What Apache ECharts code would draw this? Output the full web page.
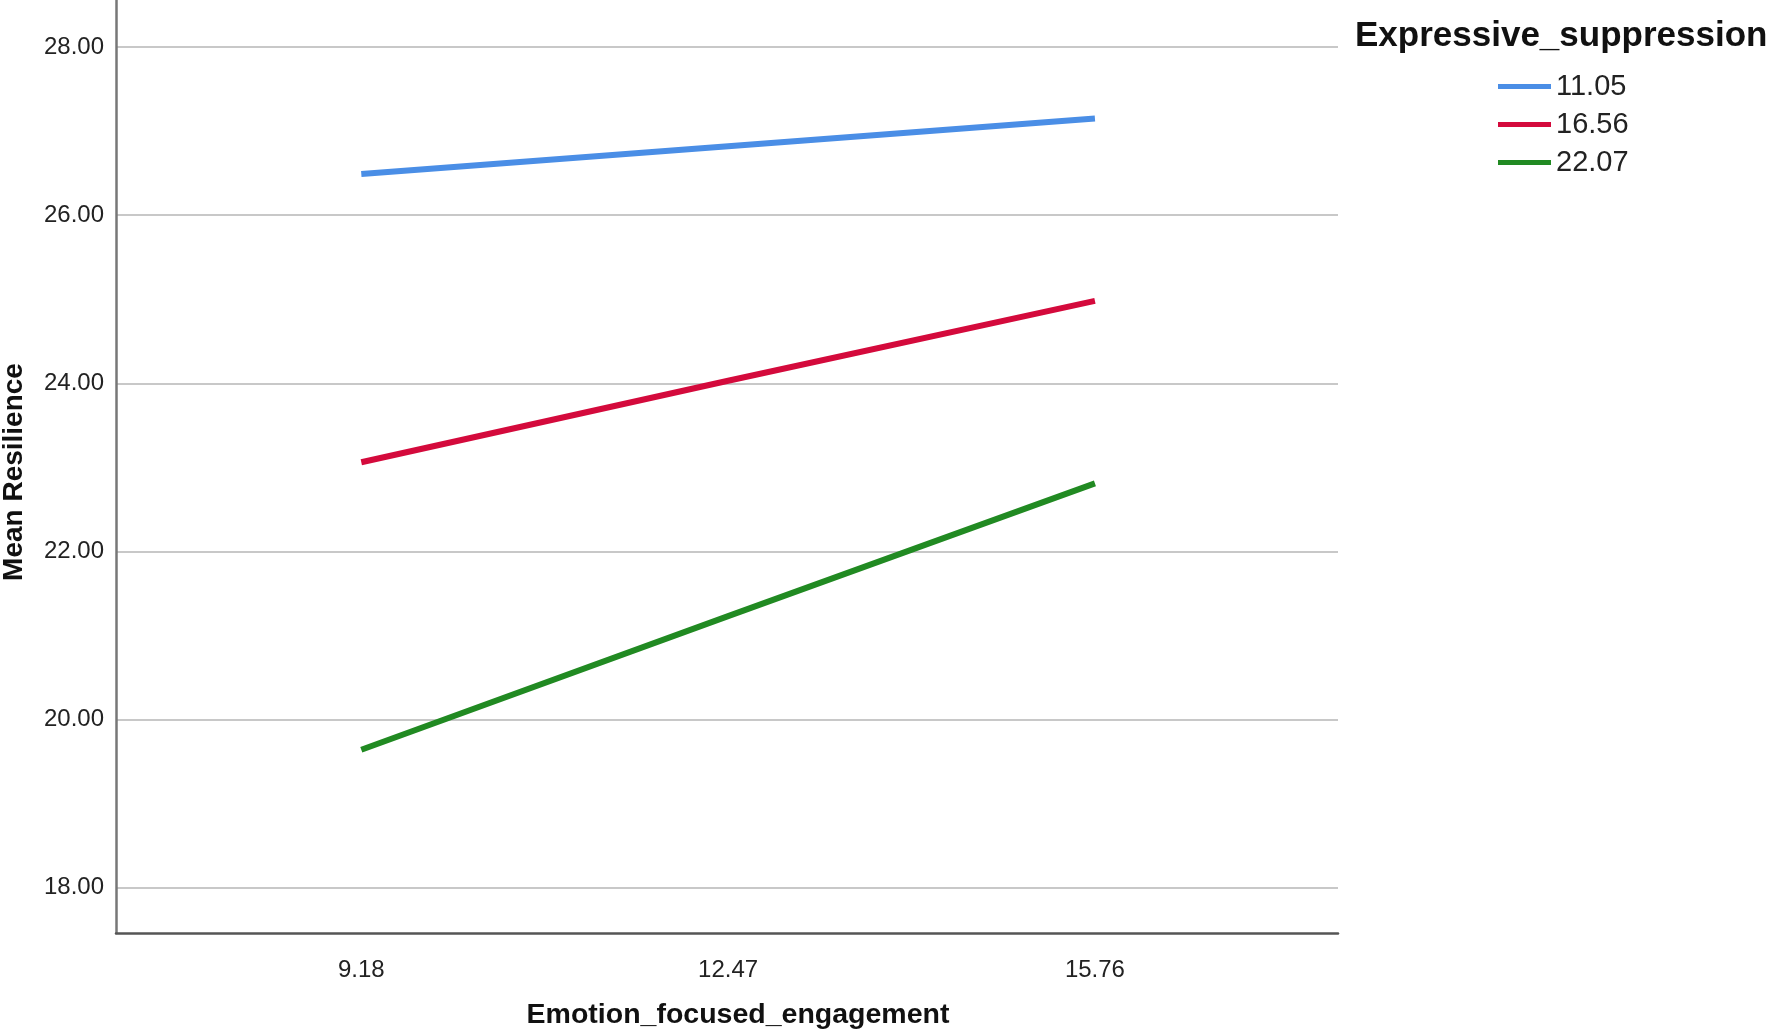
<!DOCTYPE html>
<html lang="en">
<head>
    <meta charset="UTF-8">
    <title>Mean Resilience</title>
    <script src="https://cdn.jsdelivr.net/npm/echarts@6/dist/echarts.min.js"></script>
    <style>
        html, body { margin: 0; padding: 0; background: #fff; }
        #main { width: 1770px; height: 1029px; }
    </style>
</head>
<body>
    <div id="main"></div>
    <script>
        // x values (Emotion_focused_engagement)
        var xValues = [9.18, 12.47, 15.76];
        // legend groups (Expressive_suppression)
        var groupNames = ['11.05', '16.56', '22.07'];
        // mean resilience per group
        var blueValues = [26.49, 26.82, 27.15];
        var redValues = [23.06, 24.03, 24.98];
        var greenValues = [19.64, 21.23, 22.81];
        var yTicks = [18, 20, 22, 24, 26, 28];

        var font = 'Liberation Sans, Arial, sans-serif';
        var colors = ['#4a8ee6', '#d40a3c', '#218a22'];

        function pairs(ys) {
            return xValues.map(function (x, i) { return [x, ys[i]]; });
        }

        var myChart = echarts.init(document.getElementById('main'));

        var option = {
            animation: false,
            backgroundColor: '#fff',
            title: {
                text: 'Expressive_suppression',
                left: 1350,
                top: 14,
                textStyle: {
                    fontFamily: font,
                    fontSize: 35,
                    fontWeight: 'bold',
                    color: '#111'
                }
            },
            legend: {
                orient: 'vertical',
                left: 1493,
                top: 67,
                icon: 'rect',
                itemWidth: 53,
                itemHeight: 5,
                itemGap: 9,
                data: groupNames,
                textStyle: {
                    fontFamily: font,
                    fontSize: 29,
                    lineHeight: 28,
                    color: '#222'
                }
            },
            grid: {
                left: 116,
                right: 1770 - 1338,
                top: 0,
                bottom: 1029 - 933,
                outerBoundsMode: 'none',
                containLabel: false
            },
            xAxis: {
                type: 'value',
                min: 6.98,
                max: 17.94,
                name: 'Emotion_focused_engagement',
                nameLocation: 'middle',
                nameGap: 68,
                nameTextStyle: {
                    fontFamily: font,
                    fontSize: 28.5,
                    fontWeight: 'bold',
                    color: '#111',
                    padding: [0, 0, 0, 22]
                },
                axisLine: { show: true, lineStyle: { color: '#555', width: 2.5 } },
                axisTick: { show: false, customValues: xValues },
                splitLine: { show: false },
                axisLabel: {
                    customValues: xValues,
                    margin: 25,
                    fontFamily: font,
                    fontSize: 24,
                    color: '#222',
                    formatter: function (v) { return v.toFixed(2); }
                }
            },
            yAxis: {
                type: 'value',
                min: 17.46,
                max: 28.56,
                name: 'Mean Resilience',
                nameLocation: 'middle',
                nameRotate: 90,
                nameGap: 88,
                nameTextStyle: {
                    fontFamily: font,
                    fontSize: 28,
                    fontWeight: 'bold',
                    color: '#111',
                    padding: [0, 11, 0, 0]
                },
                axisLine: { show: true, lineStyle: { color: '#777', width: 2.5 } },
                axisTick: { show: false, customValues: yTicks },
                splitLine: { show: true, lineStyle: { color: '#c8c8c8', width: 2 } },
                axisLabel: {
                    customValues: yTicks,
                    margin: 12,
                    fontFamily: font,
                    fontSize: 24,
                    color: '#222',
                    formatter: function (v) { return v.toFixed(2); }
                }
            },
            series: [blueValues, redValues, greenValues].map(function (ys, i) {
                return {
                    name: groupNames[i],
                    type: 'line',
                    data: pairs(ys),
                    symbol: 'none',
                    color: colors[i],
                    lineStyle: { width: 6, color: colors[i] }
                };
            })
        };

        myChart.setOption(option);
    </script>
</body>
</html>
